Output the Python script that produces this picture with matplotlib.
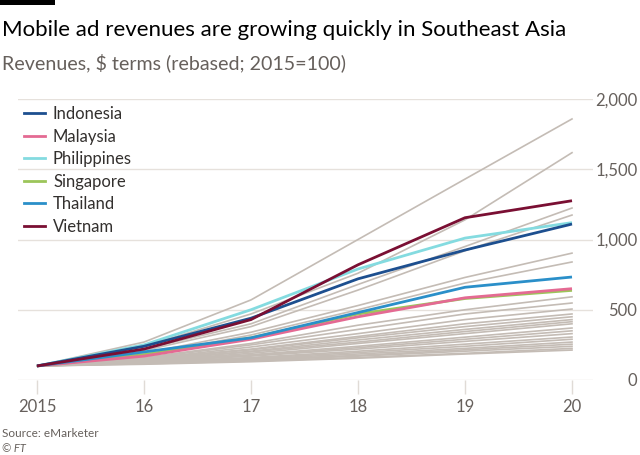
import matplotlib.pyplot as plt
from matplotlib.patches import Rectangle

plt.rcParams['font.family'] = ['Lato', 'DejaVu Sans']

years = [2015, 2016, 2017, 2018, 2019, 2020]
year_labels = ['2015', '16', '17', '18', '19', '20']

# other countries (grey background lines), rebased 2015=100
others = [
    [100, 270, 570, 1000, 1430, 1858],
    [100, 240, 470, 760, 1140, 1618],
    [100, 220, 400, 680, 950, 1224],
    [100, 210, 380, 640, 920, 1174],
    [100, 190, 340, 530, 730, 903],
    [100, 180, 320, 500, 690, 840],
    [100, 160, 260, 390, 500, 592],
    [100, 155, 250, 360, 470, 548],
    [100, 150, 235, 330, 430, 505],
    [100, 150, 220, 310, 400, 470],
    [100, 145, 215, 300, 380, 450],
    [100, 140, 205, 285, 360, 430],
    [100, 140, 200, 270, 345, 415],
    [100, 135, 190, 260, 330, 400],
    [100, 135, 180, 240, 305, 370],
    [100, 130, 175, 230, 290, 350],
    [100, 130, 170, 220, 275, 330],
    [100, 125, 160, 205, 255, 306],
    [100, 125, 155, 195, 240, 290],
    [100, 120, 150, 185, 225, 270],
    [100, 120, 145, 175, 215, 255],
    [100, 118, 140, 170, 205, 240],
    [100, 115, 135, 160, 190, 225],
    [100, 112, 130, 155, 185, 213],
]

countries = ['Indonesia', 'Malaysia', 'Philippines', 'Singapore', 'Thailand', 'Vietnam']
indonesia = [100, 240, 440, 720, 925, 1110]
malaysia = [100, 170, 290, 450, 585, 650]
philippines = [100, 250, 500, 790, 1010, 1120]
singapore = [100, 180, 300, 470, 580, 638]
thailand = [100, 200, 300, 480, 660, 733]
vietnam = [100, 220, 430, 820, 1155, 1276]

colors = {
    'Indonesia': '#1d4f8f',
    'Malaysia': '#e46a93',
    'Philippines': '#84dbe0',
    'Singapore': '#9cc55a',
    'Thailand': '#2a8fc9',
    'Vietnam': '#7a0f33',
}
series = {
    'Indonesia': indonesia,
    'Malaysia': malaysia,
    'Philippines': philippines,
    'Singapore': singapore,
    'Thailand': thailand,
    'Vietnam': vietnam,
}

fig = plt.figure(figsize=(6.4, 4.55), dpi=100)
ax = fig.add_axes([18/640, 1 - 380/455, 575/640, 281/455])

for vals in others:
    ax.plot(years, vals, color='#c4bcb5', lw=1.2, zorder=2)

draw_order = ['Singapore', 'Malaysia', 'Thailand', 'Philippines', 'Indonesia', 'Vietnam']
for name in draw_order:
    ax.plot(years, series[name], color=colors[name], lw=2.0, zorder=3,
            solid_capstyle='butt')

ax.set_xlim(2015 - 19/107, 2020 + 21/107)
ax.set_ylim(0, 2000)

for s in ax.spines.values():
    s.set_visible(False)
ax.set_yticks([0, 500, 1000, 1500, 2000])
ax.set_yticklabels(['0', '500', '1,000', '1,500', '2,000'])
ax.yaxis.tick_right()
ax.tick_params(axis='y', length=0, pad=32, labelsize=12, labelcolor='#66605c')
for lab in ax.get_yticklabels():
    lab.set_horizontalalignment('right')
ax.grid(axis='y', color='#e6e1dc', lw=1, zorder=0)

ax.set_xticks(years)
ax.set_xticklabels(year_labels)
ax.tick_params(axis='x', length=10, width=1, color='#e0dbd6', pad=4,
               labelsize=12, labelcolor='#66605c')

# legend
handles = [plt.Line2D([], [], color=colors[c], lw=2.0) for c in countries]
leg = ax.legend(handles, countries, loc='upper left',
                bbox_to_anchor=(0.0, 0.995), frameon=False, fontsize=12,
                handlelength=1.25, handletextpad=0.5, labelspacing=0.39,
                borderaxespad=0.15, borderpad=0.2)
for t in leg.get_texts():
    t.set_color('#33302e')

# header
fig.add_artist(Rectangle((0, 1 - 5/455), 55/640, 5/455, transform=fig.transFigure,
                         color='black', lw=0))
fig.text(0.003, 1 - 36/455, 'Mobile ad revenues are growing quickly in Southeast Asia',
         fontsize=16, color='#000000', va='baseline')
fig.text(0.003, 1 - 69/455, 'Revenues, $ terms (rebased; 2015=100)',
         fontsize=14.1, color='#66605c', va='baseline')
fig.text(0.003, 1 - 437/455, 'Source: eMarketer', fontsize=8.5, color='#66605c',
         va='baseline')
fig.text(0.003, 1 - 452/455, '© FT', fontsize=8, color='#66605c', va='baseline',
         style='italic')

fig.savefig('out.png', dpi=100, facecolor='white')
